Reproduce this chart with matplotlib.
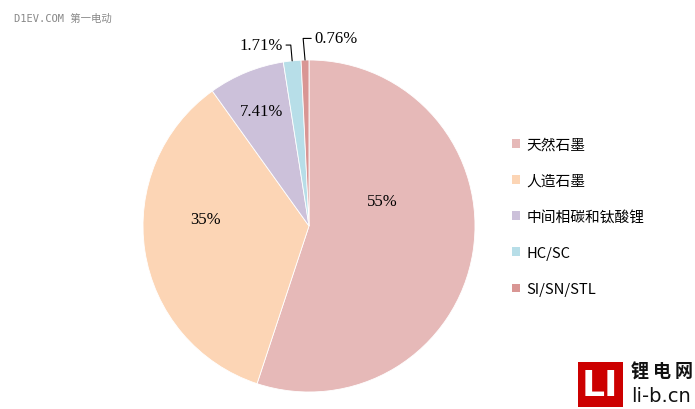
import numpy as np
import matplotlib
matplotlib.use("Agg")
import matplotlib.pyplot as plt
from matplotlib.patches import Patch, Rectangle

categories = ["天然石墨", "人造石墨", "中间相碳和钛酸锂", "HC/SC", "SI/SN/STL"]
values = [55, 35, 7.41, 1.71, 0.76]
pct_labels = ["55%", "35%", "7.41%", "1.71%", "0.76%"]
colors = ["#E6B9B8", "#FCD5B5", "#CCC1DA", "#B7DEE8", "#D99694"]

plt.rcParams['font.family'] = ['Noto Sans CJK SC', 'DejaVu Sans']

W, H = 695, 410
fig = plt.figure(figsize=(W / 100, H / 100), dpi=100)
fig.patch.set_facecolor("white")

cx, cy, R = 309, 227, 166
ax = fig.add_axes([(cx - R) / W, (H - cy - R) / H, 2 * R / W, 2 * R / H])
wedges, _ = ax.pie(values, colors=colors, startangle=90, counterclock=False,
                   radius=1, wedgeprops=dict(linewidth=0.6, edgecolor="white"))
ax.set_xlim(-1, 1)
ax.set_ylim(-1, 1)
ax.set_aspect("equal")
ax.axis("off")

serif = ['Liberation Serif', 'DejaVu Serif']
fs = 12
inside_r = [None, 0.63, 0.75]
for i, w in enumerate(wedges):
    mid = np.deg2rad((w.theta1 + w.theta2) / 2)
    if i == 0:
        ax.text(0.44, 0.15, pct_labels[i], ha="center", va="center", fontsize=fs, family=serif)
    elif i in (1, 2):
        r = inside_r[i]
        x, y = r * np.cos(mid), r * np.sin(mid)
        if i == 1:
            y += 0.14
        ax.text(x, y, pct_labels[i], ha="center", va="center", fontsize=fs, family=serif)

w = wedges[3]
mid = np.deg2rad((w.theta1 + w.theta2) / 2)
ax.annotate(pct_labels[3], xy=(np.cos(mid), np.sin(mid)), xytext=(-0.155, 1.09),
            ha="right", va="center", fontsize=fs, family=serif,
            arrowprops=dict(arrowstyle="-", color="black", lw=0.8,
                            connectionstyle="angle,angleA=0,angleB=95,rad=0",
                            shrinkA=0, shrinkB=0))
w = wedges[4]
mid = np.deg2rad((w.theta1 + w.theta2) / 2)
ax.annotate(pct_labels[4], xy=(np.cos(mid), np.sin(mid)), xytext=(0.03, 1.13),
            ha="left", va="center", fontsize=fs, family=serif,
            arrowprops=dict(arrowstyle="-", color="black", lw=0.8,
                            connectionstyle="angle,angleA=180,angleB=95,rad=0",
                            shrinkA=0, shrinkB=0))

handles = [Patch(facecolor=c, edgecolor="none") for c in colors]
leg = fig.legend(handles, categories, loc="upper left",
                 bbox_to_anchor=(506 / W, 1 - 133 / H), frameon=False,
                 fontsize=10.6, handlelength=0.55, handleheight=0.55,
                 handletextpad=0.45, labelspacing=1.5, borderaxespad=0)

fig.text(14 / W, 1 - 19 / H, "D1EV.COM 第一电动", color="#888888", fontsize=7.5,
         family=['DejaVu Sans Mono', 'Noto Sans CJK SC'], ha="left", va="center")

fig.patches.append(Rectangle((578 / W, 1 - 408 / H), 45 / W, 45 / H,
                             transform=fig.transFigure, facecolor="#CC0000",
                             edgecolor="none"))
fig.text(600 / W, 1 - 386 / H, "LI", color="white", fontsize=26, weight="bold",
         family=['DejaVu Sans'], ha="center", va="center")
for k, ch in enumerate("锂电网"):
    fig.text((640 + 22 * k) / W, 1 - 372 / H, ch, color="#111111", fontsize=13,
             weight="bold", ha="center", va="center")
fig.text(661 / W, 1 - 397 / H, "li-b.cn", color="#111111", fontsize=14,
         family=['DejaVu Sans'], ha="center", va="center")

fig.savefig("out.png", dpi=100, facecolor="white")
